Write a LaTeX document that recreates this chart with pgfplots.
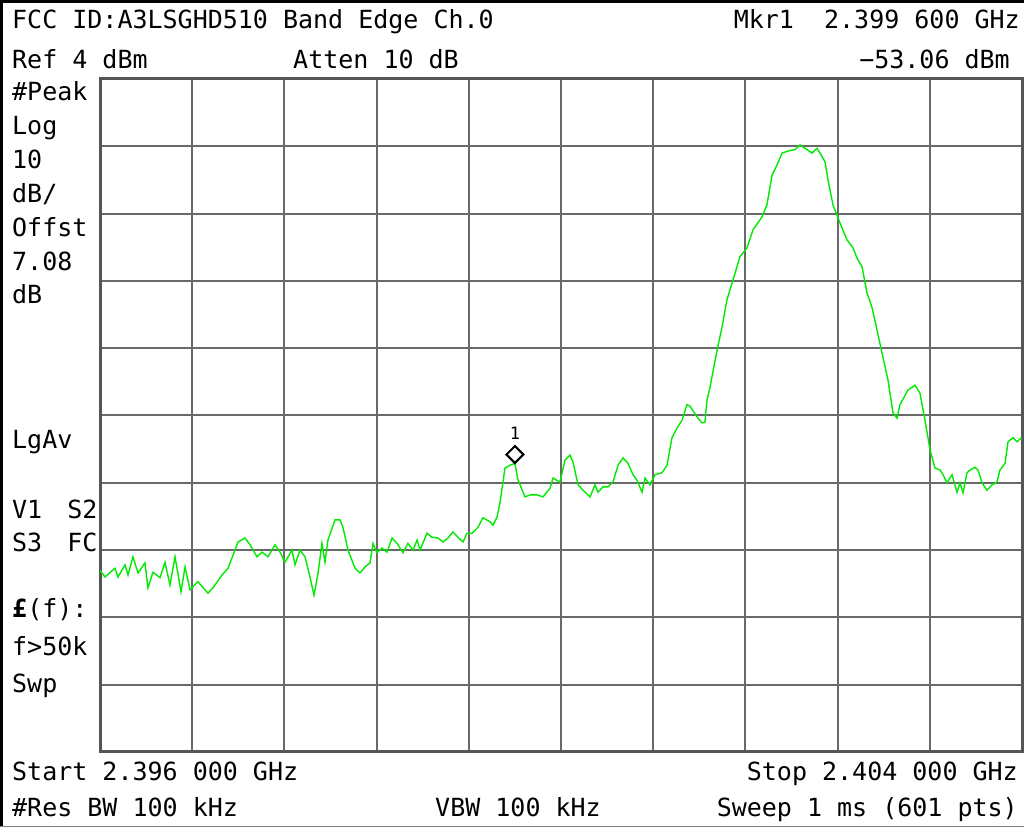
\documentclass[border=0pt]{standalone}
\usepackage{fontspec}
\usepackage{pgfplots}
\pgfplotsset{compat=1.18}
\newfontfamily\hp{DejaVu Sans Mono}
\definecolor{trace}{RGB}{0,235,0}
\definecolor{gridc}{RGB}{105,105,105}
\definecolor{framec}{RGB}{85,85,85}

\begin{document}
\begin{tikzpicture}[
  lbl/.style={inner sep=0pt,font=\hp\fontsize{25bp}{30bp}\selectfont}]
\path[use as bounding box] (0bp,0bp) rectangle (1024bp,827bp);
\fill[white] (0bp,0bp) rectangle (1024bp,827bp);
\begin{axis}[at={(100bp,75bp)},anchor=south west,scale only axis,
  width=922bp,height=673bp,
  xmin=2396,xmax=2404,ymin=-96,ymax=4,
  xtick={2396,2396.8,2397.6,2398.4,2399.2,2400,2400.8,2401.6,2402.4,2403.2,2404},
  ytick={-96,-86,-76,-66,-56,-46,-36,-26,-16,-6,4},
  xticklabels={},yticklabels={},major tick length=0pt,
  grid=major,major grid style={gridc,line width=2bp},
  axis line style={framec,line width=3bp}]
% trace, MHz / dBm
\addplot[trace,line width=1.4bp,sharp plot] coordinates {
(2396.000,-69.0) (2396.043,-70.0) (2396.130,-68.7) (2396.156,-70.0)
(2396.217,-68.2) (2396.243,-69.7) (2396.286,-67.0) (2396.330,-69.4)
(2396.390,-67.9) (2396.416,-71.6) (2396.460,-69.3) (2396.521,-70.1)
(2396.564,-67.8) (2396.607,-71.2) (2396.651,-67.0) (2396.703,-72.2)
(2396.738,-68.5) (2396.781,-71.9) (2396.850,-70.7) (2396.937,-72.4)
(2396.980,-71.6) (2397.059,-69.7) (2397.111,-68.7) (2397.171,-66.0)
(2397.197,-64.8) (2397.258,-64.2) (2397.302,-65.2) (2397.362,-67.0)
(2397.406,-66.3) (2397.458,-67.0) (2397.518,-65.2) (2397.562,-66.3)
(2397.605,-67.8) (2397.666,-66.0) (2397.692,-68.2) (2397.735,-66.0)
(2397.779,-67.0) (2397.822,-70.0) (2397.857,-72.7) (2397.892,-69.4)
(2397.926,-65.0) (2397.952,-67.8) (2397.978,-64.5) (2398.039,-61.5)
(2398.082,-61.5) (2398.108,-62.6) (2398.152,-66.0) (2398.213,-68.7)
(2398.256,-69.4) (2398.299,-68.5) (2398.343,-67.9) (2398.369,-65.0)
(2398.403,-66.4) (2398.447,-65.7) (2398.490,-66.3) (2398.534,-64.2)
(2398.577,-65.0) (2398.629,-66.4) (2398.672,-65.0) (2398.716,-66.0)
(2398.751,-64.5) (2398.777,-66.0) (2398.837,-63.5) (2398.881,-64.1)
(2398.933,-64.2) (2398.976,-64.8) (2399.020,-64.2) (2399.063,-63.3)
(2399.106,-64.1) (2399.150,-64.8) (2399.184,-63.5) (2399.228,-63.5)
(2399.280,-62.6) (2399.323,-61.2) (2399.384,-61.8) (2399.410,-62.3)
(2399.445,-61.1) (2399.471,-58.9) (2399.514,-53.8) (2399.557,-53.4)
(2399.600,-53.1) (2399.627,-55.6) (2399.688,-58.1) (2399.731,-57.8)
(2399.792,-57.8) (2399.844,-58.1) (2399.905,-56.8) (2399.931,-55.3)
(2399.991,-55.9) (2400.035,-52.6) (2400.078,-51.9) (2400.104,-52.9)
(2400.148,-56.3) (2400.191,-57.1) (2400.252,-58.1) (2400.295,-56.3)
(2400.321,-57.4) (2400.364,-56.6) (2400.408,-56.6) (2400.451,-55.9)
(2400.495,-53.4) (2400.538,-52.3) (2400.581,-53.1) (2400.625,-54.8)
(2400.659,-55.6) (2400.703,-57.4) (2400.729,-55.3) (2400.772,-56.3)
(2400.816,-54.8) (2400.876,-54.5) (2400.920,-53.4) (2400.963,-49.3)
(2401.006,-47.9) (2401.050,-46.7) (2401.093,-44.4) (2401.119,-44.6)
(2401.180,-46.2) (2401.223,-47.1) (2401.249,-47.0) (2401.267,-43.7)
(2401.293,-41.8) (2401.354,-36.3) (2401.397,-32.9) (2401.440,-28.8)
(2401.492,-25.9) (2401.553,-22.4) (2401.614,-21.1) (2401.666,-18.4)
(2401.744,-16.5) (2401.787,-14.7) (2401.831,-10.3) (2401.874,-8.8)
(2401.918,-7.0) (2401.970,-6.7) (2402.030,-6.5) (2402.074,-5.8)
(2402.117,-6.3) (2402.178,-7.0) (2402.221,-6.3) (2402.247,-7.0)
(2402.291,-8.3) (2402.317,-11.0) (2402.360,-14.7) (2402.421,-17.4)
(2402.482,-19.9) (2402.534,-21.1) (2402.568,-22.6) (2402.612,-23.9)
(2402.655,-27.8) (2402.698,-29.9) (2402.742,-33.3) (2402.785,-36.7)
(2402.837,-40.7) (2402.881,-45.6) (2402.915,-46.4) (2402.941,-44.4)
(2403.011,-42.2) (2403.072,-41.5) (2403.115,-42.7) (2403.158,-46.7)
(2403.202,-51.1) (2403.245,-53.8) (2403.289,-54.1) (2403.315,-54.8)
(2403.349,-56.0) (2403.393,-54.8) (2403.436,-57.4) (2403.462,-56.0)
(2403.488,-57.5) (2403.523,-54.5) (2403.549,-54.1) (2403.592,-53.7)
(2403.618,-54.1) (2403.653,-56.0) (2403.696,-57.1) (2403.740,-56.3)
(2403.783,-55.9) (2403.809,-54.1) (2403.853,-53.1) (2403.879,-49.9)
(2403.922,-49.3) (2403.957,-49.9) (2404.000,-49.2)};
% marker 1
\addplot[only marks,mark=square,mark size=6bp,
  mark options={black,fill=white,line width=2bp,yshift=8.5bp,rotate=45}]
  coordinates {(2399.6,-53.06)}
  node[above,yshift=23bp,inner sep=0pt,font=\hp\fontsize{17bp}{20bp}\selectfont] {1};
\end{axis}
% frame of the screen
\draw[black,line width=3bp] (1.5bp,0bp) -- (1.5bp,827bp);
\draw[black,line width=3bp] (0bp,825.5bp) -- (1024bp,825.5bp);
\draw[gray,line width=1.5bp] (0bp,0.75bp) -- (1024bp,0.75bp);
% header
\node[lbl,anchor=base west] at (12bp,798bp) {FCC ID:A3LSGHD510 Band Edge Ch.0};
\node[lbl,anchor=base east] at (1020bp,798bp) {Mkr1~~2.399 600 GHz};
\node[lbl,anchor=base west] at (12bp,758bp) {Ref 4 dBm};
\node[lbl,anchor=base west] at (293bp,758bp) {Atten 10 dB};
\node[lbl,anchor=base east] at (1010bp,758bp) {−53.06 dBm};
% left column
\node[lbl,anchor=base west] at (12bp,726bp) {\#Peak};
\node[lbl,anchor=base west] at (12bp,692bp) {Log};
\node[lbl,anchor=base west] at (12bp,658bp) {10};
\node[lbl,anchor=base west] at (12bp,624bp) {dB/};
\node[lbl,anchor=base west] at (12bp,590bp) {Offst};
\node[lbl,anchor=base west] at (12bp,556bp) {7.08};
\node[lbl,anchor=base west] at (12bp,523bp) {dB};
\node[lbl,anchor=base west] at (12bp,378bp) {LgAv};
\node[lbl,anchor=base west] at (12bp,308bp) {V1\hspace{25bp}S2};
\node[lbl,anchor=base west] at (12bp,275bp) {S3\hspace{25bp}FC};
\node[lbl,anchor=base west] at (12bp,209bp) {{\bfseries £}(f):};
\node[lbl,anchor=base west] at (12bp,171bp) {f>50k};
\node[lbl,anchor=base west] at (12bp,134bp) {Swp};
% footer
\node[lbl,anchor=base west] at (12bp,46bp) {Start 2.396 000 GHz};
\node[lbl,anchor=base east] at (1018bp,46bp) {Stop 2.404 000 GHz};
\node[lbl,anchor=base west] at (12bp,11bp) {\#Res BW 100 kHz};
\node[lbl,anchor=base west] at (435bp,11bp) {VBW 100 kHz};
\node[lbl,anchor=base east] at (1018bp,11bp) {Sweep 1 ms (601 pts)};
\end{tikzpicture}
\end{document}
